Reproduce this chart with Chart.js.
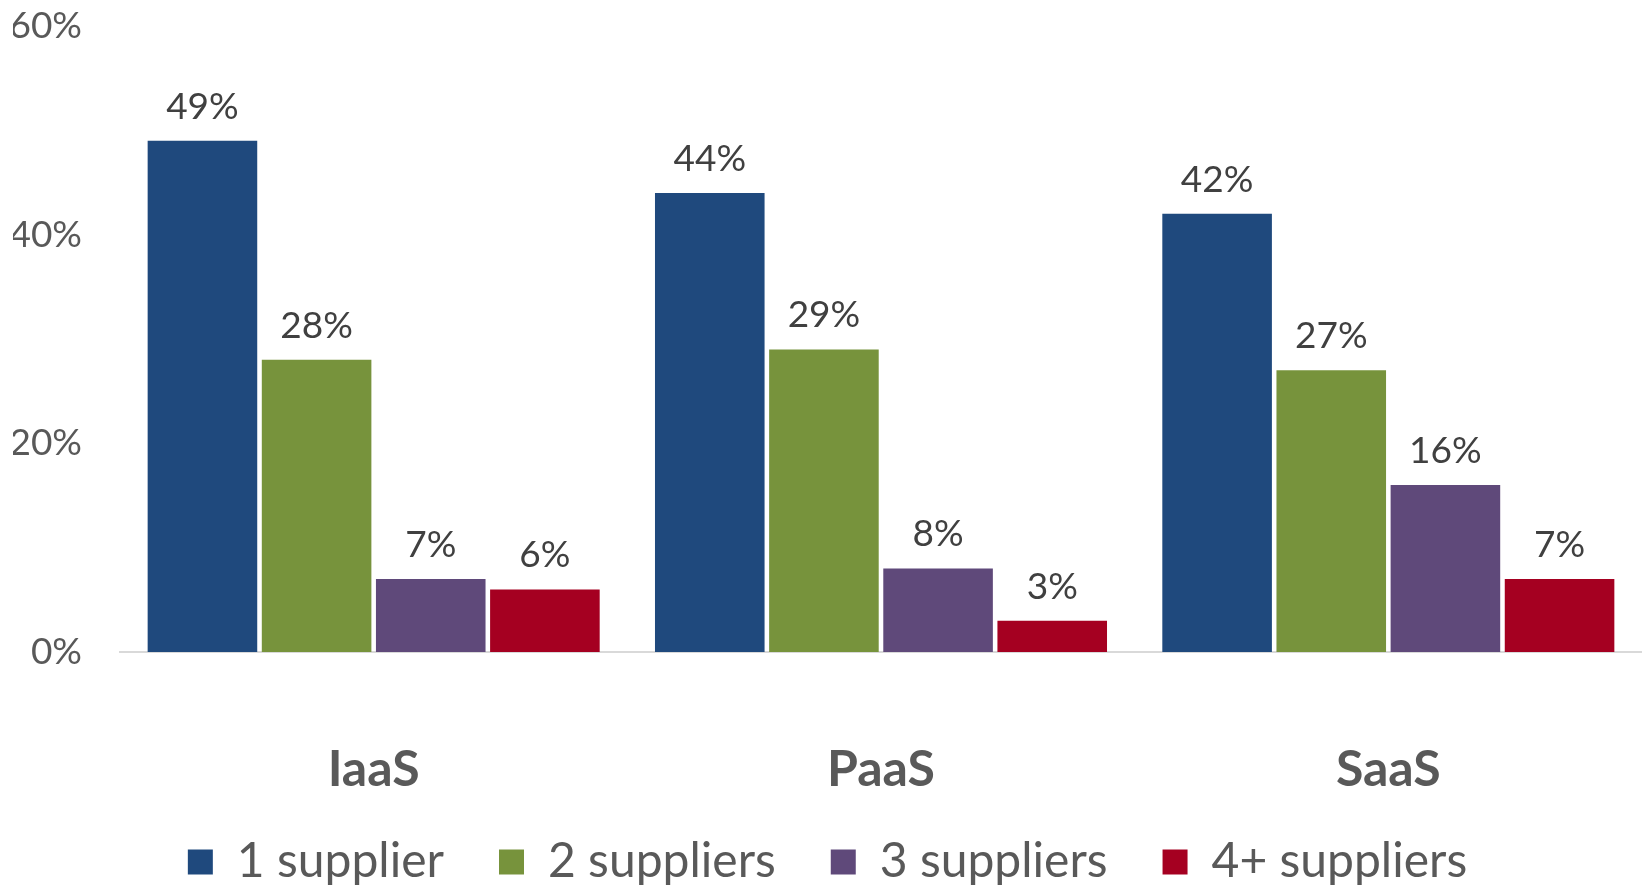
<!DOCTYPE html>
<html>
<head>
<meta charset="utf-8">
<script src="https://cdn.jsdelivr.net/npm/chart.js@4"></script>
<style>
  html,body{margin:0;padding:0;background:#fff;}
  #wrap{width:1642px;height:886px;}
</style>
</head>
<body>
<div id="wrap"><canvas id="chart"></canvas></div>
<script>
// data
const categories = ['IaaS', 'PaaS', 'SaaS'];
const seriesNames = ['1 supplier', '2 suppliers', '3 suppliers', '4+ suppliers'];
const oneSupplier = [49, 44, 42];
const twoSuppliers = [28, 29, 27];
const threeSuppliers = [7, 8, 16];
const fourPlusSuppliers = [6, 3, 7];
const yTicks = [0, 20, 40, 60];

const colors = ['#1F497D', '#77933C', '#5F497A', '#A50021'];
const values = [oneSupplier, twoSuppliers, threeSuppliers, fourPlusSuppliers];

// draw the % labels above each bar
const barLabels = {
  id: 'barLabels',
  afterDatasetsDraw(chart){
    const ctx = chart.ctx;
    ctx.save();
    ctx.font = '37px Lato';
    ctx.fillStyle = '#404040';
    ctx.textAlign = 'center';
    ctx.textBaseline = 'middle';
    chart.data.datasets.forEach((ds, i)=>{
      chart.getDatasetMeta(i).data.forEach((bar, j)=>{
        ctx.fillText(ds.data[j] + '%', bar.x, bar.y - 34);
      });
    });
    ctx.restore();
  }
};

// x labels sit below the axis box, so let the label clip reach further down
const labelRoom = {
  id: 'labelRoom',
  afterLayout(chart){
    chart.scales.x.bottom += 50;
  }
};

new Chart(document.getElementById('chart'), {
  type: 'bar',
  data: {
    labels: categories,
    datasets: seriesNames.map((name, i)=>({
      label: name,
      data: values[i],
      backgroundColor: colors[i],
      categoryPercentage: 0.9,
      barPercentage: 0.96
    }))
  },
  options: {
    responsive: true,
    maintainAspectRatio: false,
    animation: false,
    layout: { padding: { left: 13, right: 0, top: 0, bottom: -10 } },
    plugins: {
      legend: {
        position: 'bottom',
        labels: {
          boxWidth: 25,
          boxHeight: 25,
          padding: 55,
          color: '#595959',
          font: { family: 'Lato', size: 48 }
        }
      },
      tooltip: { enabled: false }
    },
    scales: {
      x: {
        grid: { display: false, drawTicks: false },
        border: { display: true, color: '#D9D9D9', width: 2 },
        afterFit: s => { s.height = 131; },
        ticks: {
          padding: 93,
          color: '#595959',
          font: { family: 'Lato', size: 50, weight: 'bold', lineHeight: 1 }
        }
      },
      y: {
        min: 0,
        max: 60,
        afterBuildTicks: axis => { axis.ticks = yTicks.map(v=>({ value: v })); },
        afterFit: s => { s.width = 107; s.paddingTop = 26; },
        grid: { display: false, drawTicks: false },
        border: { display: false },
        ticks: {
          padding: 38,
          color: '#595959',
          font: { family: 'Lato', size: 37 },
          callback: v => v + '%'
        }
      }
    }
  },
  plugins: [barLabels, labelRoom]
});
</script>
</body>
</html>
